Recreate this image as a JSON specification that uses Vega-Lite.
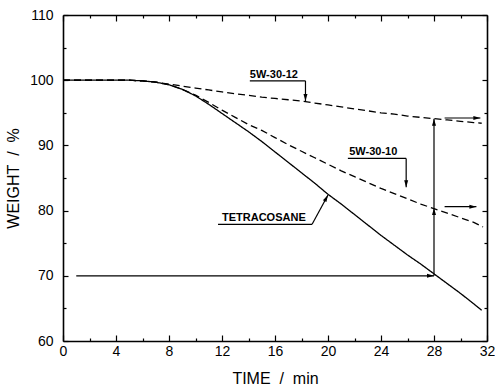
{
  "$schema": "https://vega.github.io/schema/vega-lite/v6.json",
  "width": 424,
  "height": 326,
  "autosize": "none",
  "padding": {"left": 63, "top": 15, "right": 8, "bottom": 47},
  "background": "white",
  "config": {
    "view": {"stroke": null},
    "font": "Liberation Sans",
    "axis": {
      "grid": false,
      "domainColor": "black",
      "domainWidth": 1.6,
      "tickColor": "black",
      "tickWidth": 1.2,
      "labelColor": "black",
      "titleColor": "black",
      "labelFont": "Liberation Sans",
      "titleFont": "Liberation Sans",
      "labelFontSize": 14,
      "titleFontSize": 16,
      "titleFontWeight": "normal",
      "labelFlush": false,
      "labelOverlap": false
    }
  },
  "datasets": {
    "curves": [
      {"series": "TETRACOSANE", "t": 0, "w": 100},
      {"series": "TETRACOSANE", "t": 5, "w": 100},
      {"series": "TETRACOSANE", "t": 6, "w": 99.9},
      {"series": "TETRACOSANE", "t": 7, "w": 99.7},
      {"series": "TETRACOSANE", "t": 8, "w": 99.3},
      {"series": "TETRACOSANE", "t": 9, "w": 98.6},
      {"series": "TETRACOSANE", "t": 10, "w": 97.6},
      {"series": "TETRACOSANE", "t": 11, "w": 96.3},
      {"series": "TETRACOSANE", "t": 12, "w": 94.9},
      {"series": "TETRACOSANE", "t": 13, "w": 93.5},
      {"series": "TETRACOSANE", "t": 14, "w": 92.1},
      {"series": "TETRACOSANE", "t": 15, "w": 90.6},
      {"series": "TETRACOSANE", "t": 16, "w": 89.0},
      {"series": "TETRACOSANE", "t": 17, "w": 87.4},
      {"series": "TETRACOSANE", "t": 18, "w": 85.8},
      {"series": "TETRACOSANE", "t": 19, "w": 84.2},
      {"series": "TETRACOSANE", "t": 20, "w": 82.5},
      {"series": "TETRACOSANE", "t": 21, "w": 81.0},
      {"series": "TETRACOSANE", "t": 22, "w": 79.4},
      {"series": "TETRACOSANE", "t": 23, "w": 77.8},
      {"series": "TETRACOSANE", "t": 24, "w": 76.2},
      {"series": "TETRACOSANE", "t": 25, "w": 74.7},
      {"series": "TETRACOSANE", "t": 26, "w": 73.2},
      {"series": "TETRACOSANE", "t": 27, "w": 71.8},
      {"series": "TETRACOSANE", "t": 28, "w": 70.3},
      {"series": "TETRACOSANE", "t": 29, "w": 68.8},
      {"series": "TETRACOSANE", "t": 30, "w": 67.3},
      {"series": "TETRACOSANE", "t": 31, "w": 65.7},
      {"series": "TETRACOSANE", "t": 31.6, "w": 64.7},
      {"series": "5W-30-10", "t": 0, "w": 100},
      {"series": "5W-30-10", "t": 5, "w": 100},
      {"series": "5W-30-10", "t": 6, "w": 99.9},
      {"series": "5W-30-10", "t": 7, "w": 99.7},
      {"series": "5W-30-10", "t": 8, "w": 99.3},
      {"series": "5W-30-10", "t": 9, "w": 98.6},
      {"series": "5W-30-10", "t": 10, "w": 97.7},
      {"series": "5W-30-10", "t": 11, "w": 96.6},
      {"series": "5W-30-10", "t": 12, "w": 95.4},
      {"series": "5W-30-10", "t": 13, "w": 94.3},
      {"series": "5W-30-10", "t": 14, "w": 93.2},
      {"series": "5W-30-10", "t": 15, "w": 92.3},
      {"series": "5W-30-10", "t": 16, "w": 91.2},
      {"series": "5W-30-10", "t": 17, "w": 90.1},
      {"series": "5W-30-10", "t": 18, "w": 89.1},
      {"series": "5W-30-10", "t": 19, "w": 88.1},
      {"series": "5W-30-10", "t": 20, "w": 87.1},
      {"series": "5W-30-10", "t": 21, "w": 86.1},
      {"series": "5W-30-10", "t": 22, "w": 85.2},
      {"series": "5W-30-10", "t": 23, "w": 84.3},
      {"series": "5W-30-10", "t": 24, "w": 83.4},
      {"series": "5W-30-10", "t": 25, "w": 82.6},
      {"series": "5W-30-10", "t": 26, "w": 81.8},
      {"series": "5W-30-10", "t": 27, "w": 81.0},
      {"series": "5W-30-10", "t": 28, "w": 80.3},
      {"series": "5W-30-10", "t": 29, "w": 79.6},
      {"series": "5W-30-10", "t": 30, "w": 78.9},
      {"series": "5W-30-10", "t": 31, "w": 78.2},
      {"series": "5W-30-10", "t": 31.7, "w": 77.5},
      {"series": "5W-30-12", "t": 0, "w": 100},
      {"series": "5W-30-12", "t": 5, "w": 100},
      {"series": "5W-30-12", "t": 6, "w": 99.9},
      {"series": "5W-30-12", "t": 7, "w": 99.7},
      {"series": "5W-30-12", "t": 8, "w": 99.4},
      {"series": "5W-30-12", "t": 9, "w": 99.1},
      {"series": "5W-30-12", "t": 10, "w": 98.8},
      {"series": "5W-30-12", "t": 11, "w": 98.5},
      {"series": "5W-30-12", "t": 12, "w": 98.2},
      {"series": "5W-30-12", "t": 13, "w": 97.9},
      {"series": "5W-30-12", "t": 14, "w": 97.7},
      {"series": "5W-30-12", "t": 15, "w": 97.4},
      {"series": "5W-30-12", "t": 16, "w": 97.2},
      {"series": "5W-30-12", "t": 17, "w": 97.0},
      {"series": "5W-30-12", "t": 18, "w": 96.8},
      {"series": "5W-30-12", "t": 19, "w": 96.5},
      {"series": "5W-30-12", "t": 20, "w": 96.2},
      {"series": "5W-30-12", "t": 21, "w": 95.9},
      {"series": "5W-30-12", "t": 22, "w": 95.6},
      {"series": "5W-30-12", "t": 23, "w": 95.3},
      {"series": "5W-30-12", "t": 24, "w": 95.0},
      {"series": "5W-30-12", "t": 25, "w": 94.8},
      {"series": "5W-30-12", "t": 26, "w": 94.5},
      {"series": "5W-30-12", "t": 27, "w": 94.3},
      {"series": "5W-30-12", "t": 28, "w": 94.1},
      {"series": "5W-30-12", "t": 29, "w": 93.9},
      {"series": "5W-30-12", "t": 30, "w": 93.7},
      {"series": "5W-30-12", "t": 31, "w": 93.5},
      {"series": "5W-30-12", "t": 31.6, "w": 93.4}
    ],
    "segments": [
      {"x1": 1.0, "y1": 70, "x2": 28, "y2": 70},
      {"x1": 28, "y1": 70, "x2": 28, "y2": 94.1},
      {"x1": 28.8, "y1": 94.2, "x2": 31.5, "y2": 94.2},
      {"x1": 28.8, "y1": 80.6, "x2": 31.2, "y2": 80.6},
      {"x1": 14.1, "y1": 99.9, "x2": 18.3, "y2": 99.9},
      {"x1": 18.3, "y1": 99.9, "x2": 18.3, "y2": 96.8},
      {"x1": 21.5, "y1": 88.0, "x2": 25.9, "y2": 88.0},
      {"x1": 25.9, "y1": 88.0, "x2": 25.9, "y2": 83.6},
      {"x1": 11.7, "y1": 77.9, "x2": 18.8, "y2": 77.9},
      {"x1": 18.8, "y1": 77.9, "x2": 20.0, "y2": 82.4}
    ],
    "heads": [
      {"x": 28, "y": 70, "dir": "right"},
      {"x": 28, "y": 80.4, "dir": "up"},
      {"x": 28, "y": 94.1, "dir": "up"},
      {"x": 31.5, "y": 94.2, "dir": "right"},
      {"x": 31.2, "y": 80.6, "dir": "right"},
      {"x": 18.3, "y": 96.8, "dir": "down"},
      {"x": 25.9, "y": 83.6, "dir": "down"},
      {"x": 20.0, "y": 82.4, "dir": "upright"}
    ],
    "labels": [
      {"x": 14.1, "y": 99.9, "text": "5W-30-12"},
      {"x": 21.6, "y": 88.0, "text": "5W-30-10"},
      {"x": 12.0, "y": 77.9, "text": "TETRACOSANE"}
    ]
  },
  "layer": [
    {
      "data": {"name": "curves"},
      "mark": {"type": "line", "strokeWidth": 1.3, "color": "black"},
      "encoding": {
        "x": {
          "field": "t", "type": "quantitative",
          "scale": {"domain": [0, 32], "nice": false, "zero": false},
          "axis": {
            "orient": "bottom",
            "values": [0, 2, 4, 6, 8, 10, 12, 14, 16, 18, 20, 22, 24, 26, 28, 30, 32],
            "labelExpr": "datum.value % 4 === 0 ? datum.label : ''",
            "tickSize": {"condition": {"test": "datum.value % 4 === 0", "value": -6}, "value": -3},
            "labelPadding": 9,
            "title": "TIME\u00a0\u00a0/\u00a0\u00a0min",
            "titlePadding": 9
          }
        },
        "y": {
          "field": "w", "type": "quantitative",
          "scale": {"domain": [60, 110], "nice": false, "zero": false},
          "axis": {
            "orient": "left",
            "values": [60, 65, 70, 75, 80, 85, 90, 95, 100, 105, 110],
            "labelExpr": "datum.value % 10 === 0 ? datum.label : ''",
            "tickSize": {"condition": {"test": "datum.value % 10 === 0", "value": -5}, "value": -3},
            "labelPadding": 15,
            "title": "WEIGHT\u00a0\u00a0/\u00a0\u00a0%",
            "titlePadding": 8
          }
        },
        "strokeDash": {
          "field": "series", "type": "nominal",
          "scale": {"domain": ["TETRACOSANE", "5W-30-10", "5W-30-12"], "range": [[1, 0], [7, 4], [7, 4]]},
          "legend": null
        }
      }
    },
    {
      "data": {"name": "segments"},
      "mark": {"type": "rule", "strokeWidth": 1.2, "color": "black"},
      "encoding": {
        "x": {
          "field": "x1", "type": "quantitative",
          "scale": {"domain": [0, 32], "nice": false, "zero": false},
          "axis": {
            "orient": "top",
            "values": [0, 2, 4, 6, 8, 10, 12, 14, 16, 18, 20, 22, 24, 26, 28, 30, 32],
            "labels": false,
            "title": null,
            "tickSize": {"condition": {"test": "datum.value % 4 === 0", "value": -6}, "value": -3}
          }
        },
        "x2": {"field": "x2"},
        "y": {
          "field": "y1", "type": "quantitative",
          "scale": {"domain": [60, 110], "nice": false, "zero": false},
          "axis": {
            "orient": "right",
            "values": [60, 65, 70, 75, 80, 85, 90, 95, 100, 105, 110],
            "labels": false,
            "title": null,
            "tickSize": {"condition": {"test": "datum.value % 10 === 0", "value": -5}, "value": -3}
          }
        },
        "y2": {"field": "y2"}
      }
    },
    {
      "data": {"name": "heads"},
      "mark": {"type": "point", "filled": true, "size": 16, "color": "black", "opacity": 1, "strokeWidth": 0},
      "encoding": {
        "x": {"field": "x", "type": "quantitative", "axis": null},
        "y": {"field": "y", "type": "quantitative", "axis": null},
        "shape": {
          "field": "dir", "type": "nominal",
          "scale": {
            "domain": ["up", "down", "right", "upright"],
            "range": ["M0,0L1,3.5L-1,3.5Z", "M0,0L1,-3.5L-1,-3.5Z", "M0,0L-3.5,1L-3.5,-1Z", "M0,0L-0.79,3.55L-2.55,2.6Z"]
          },
          "legend": null
        }
      }
    },
    {
      "data": {"name": "labels"},
      "mark": {"type": "text", "align": "left", "baseline": "alphabetic", "dy": -3, "fontSize": 11, "font": "Liberation Sans", "fontWeight": "bold", "color": "black"},
      "encoding": {
        "x": {"field": "x", "type": "quantitative", "axis": null},
        "y": {"field": "y", "type": "quantitative", "axis": null},
        "text": {"field": "text", "type": "nominal"}
      }
    }
  ],
  "resolve": {"axis": {"x": "independent", "y": "independent"}}
}
